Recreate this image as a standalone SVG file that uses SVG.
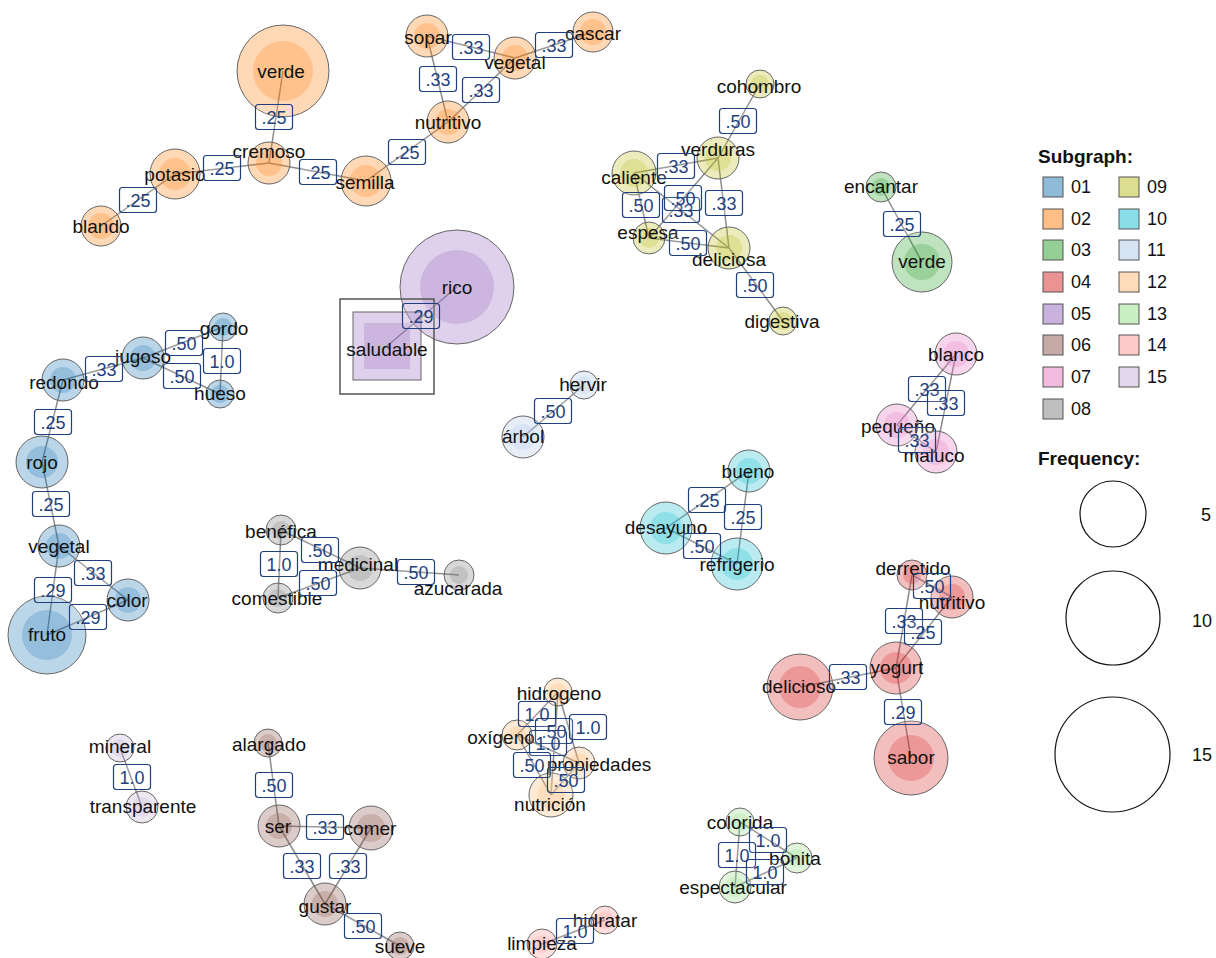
<svg xmlns="http://www.w3.org/2000/svg" width="1216" height="958" viewBox="0 0 1216 958">
<style>
text{font-family:"Liberation Sans",Arial,sans-serif}
.e{stroke:#8c8c8c;stroke-width:1.5;fill:none}
.lb{fill:#fff;fill-opacity:0.15;stroke:#1f3f7f;stroke-width:1.2}
.lt{font-size:18px;fill:#1f3f7f;text-anchor:middle}
.nt{font-size:19px;fill:#111;text-anchor:middle}
.o{fill-opacity:0.3;stroke:#666;stroke-width:1}
.i{fill-opacity:0.25}
.c01{fill:#1f77b4}.c02{fill:#ff7f0e}.c03{fill:#2ca02c}.c04{fill:#d62728}.c05{fill:#9467bd}
.c06{fill:#8c564b}.c07{fill:#e377c2}.c08{fill:#7f7f7f}.c09{fill:#bcbd22}.c10{fill:#17becf}
.c11{fill:#aec7e8}.c12{fill:#ffbb78}.c13{fill:#98df8a}.c14{fill:#ff9896}.c15{fill:#c5b0d5}
.sq{fill-opacity:0.5;stroke:#555;stroke-width:1}
.lg{font-size:18px;fill:#111}
.lh{font-size:19px;font-weight:bold;fill:#111}
.fc{fill:none;stroke:#111;stroke-width:1.2}
</style>
<rect width="1216" height="958" fill="#fff"/>
<g id="connectors">
<line class="e" x1="283" y1="71" x2="269" y2="163"/>
<line class="e" x1="269" y1="163" x2="175" y2="174"/>
<line class="e" x1="269" y1="163" x2="366" y2="181"/>
<line class="e" x1="175" y1="174" x2="101" y2="226"/>
<line class="e" x1="366" y1="181" x2="448" y2="122"/>
<line class="e" x1="448" y1="122" x2="427" y2="36"/>
<line class="e" x1="448" y1="122" x2="515" y2="58"/>
<line class="e" x1="427" y1="36" x2="515" y2="58"/>
<line class="e" x1="515" y1="58" x2="593" y2="32"/>
<line class="e" x1="760" y1="84" x2="718" y2="158"/>
<line class="e" x1="718" y1="158" x2="634" y2="173"/>
<line class="e" x1="718" y1="158" x2="649" y2="238"/>
<line class="e" x1="634" y1="173" x2="729" y2="248"/>
<line class="e" x1="718" y1="158" x2="729" y2="248"/>
<line class="e" x1="634" y1="173" x2="649" y2="238"/>
<line class="e" x1="649" y1="238" x2="729" y2="248"/>
<line class="e" x1="729" y1="248" x2="783" y2="321"/>
<line class="e" x1="881" y1="187" x2="922" y2="262"/>
<line class="e" x1="457" y1="287" x2="387" y2="346"/>
<line class="e" x1="143" y1="358" x2="223" y2="327"/>
<line class="e" x1="223" y1="327" x2="220" y2="394"/>
<line class="e" x1="143" y1="358" x2="220" y2="394"/>
<line class="e" x1="63" y1="380" x2="143" y2="358"/>
<line class="e" x1="63" y1="380" x2="42" y2="462"/>
<line class="e" x1="42" y1="462" x2="59" y2="546"/>
<line class="e" x1="59" y1="546" x2="47" y2="635"/>
<line class="e" x1="59" y1="546" x2="128" y2="600"/>
<line class="e" x1="128" y1="600" x2="47" y2="635"/>
<line class="e" x1="584" y1="385" x2="523" y2="437"/>
<line class="e" x1="956" y1="354" x2="897" y2="425"/>
<line class="e" x1="956" y1="354" x2="936" y2="452"/>
<line class="e" x1="897" y1="425" x2="936" y2="452"/>
<line class="e" x1="749" y1="471" x2="666" y2="528"/>
<line class="e" x1="749" y1="471" x2="737" y2="564"/>
<line class="e" x1="666" y1="528" x2="737" y2="564"/>
<line class="e" x1="281" y1="530" x2="360" y2="568"/>
<line class="e" x1="281" y1="530" x2="278" y2="598"/>
<line class="e" x1="278" y1="598" x2="360" y2="568"/>
<line class="e" x1="360" y1="568" x2="459" y2="575"/>
<line class="e" x1="912" y1="575" x2="952" y2="597"/>
<line class="e" x1="912" y1="575" x2="896" y2="668"/>
<line class="e" x1="952" y1="597" x2="896" y2="668"/>
<line class="e" x1="800" y1="687" x2="896" y2="668"/>
<line class="e" x1="896" y1="668" x2="911" y2="758"/>
<line class="e" x1="558" y1="692" x2="517" y2="735"/>
<line class="e" x1="558" y1="692" x2="551" y2="795"/>
<line class="e" x1="558" y1="692" x2="579" y2="763"/>
<line class="e" x1="517" y1="735" x2="579" y2="763"/>
<line class="e" x1="517" y1="735" x2="551" y2="795"/>
<line class="e" x1="579" y1="763" x2="551" y2="795"/>
<line class="e" x1="740" y1="822" x2="797" y2="858"/>
<line class="e" x1="740" y1="822" x2="735" y2="887"/>
<line class="e" x1="735" y1="887" x2="797" y2="858"/>
<line class="e" x1="605" y1="920" x2="542" y2="944"/>
<line class="e" x1="120" y1="748" x2="142" y2="807"/>
<line class="e" x1="268" y1="743" x2="279" y2="826"/>
<line class="e" x1="279" y1="826" x2="371" y2="828"/>
<line class="e" x1="279" y1="826" x2="325" y2="904"/>
<line class="e" x1="371" y1="828" x2="325" y2="904"/>
<line class="e" x1="325" y1="904" x2="400" y2="946"/>
</g>
<g id="nodes">
<g id="n-verde-02" class="c02"><circle class="o" cx="283" cy="71" r="46"/><circle class="i" cx="283" cy="71" r="30"/><text class="nt" x="281" y="78">verde</text></g>
<g id="n-cremoso" class="c02"><circle class="o" cx="269" cy="163" r="21"/><circle class="i" cx="269" cy="163" r="13"/><text class="nt" x="269" y="158">cremoso</text></g>
<g id="n-potasio" class="c02"><circle class="o" cx="175" cy="174" r="25"/><circle class="i" cx="175" cy="174" r="16"/><text class="nt" x="175" y="181">potasio</text></g>
<g id="n-blando" class="c02"><circle class="o" cx="101" cy="226" r="20"/><circle class="i" cx="101" cy="226" r="13"/><text class="nt" x="101" y="233">blando</text></g>
<g id="n-semilla" class="c02"><circle class="o" cx="366" cy="181" r="25"/><circle class="i" cx="366" cy="181" r="16"/><text class="nt" x="365" y="189">semilla</text></g>
<g id="n-nutritivo-02" class="c02"><circle class="o" cx="448" cy="122" r="21"/><circle class="i" cx="448" cy="122" r="13"/><text class="nt" x="448" y="129">nutritivo</text></g>
<g id="n-sopar" class="c02"><circle class="o" cx="427" cy="36" r="21"/><circle class="i" cx="427" cy="36" r="13"/><text class="nt" x="428" y="44">sopar</text></g>
<g id="n-vegetal-02" class="c02"><circle class="o" cx="515" cy="58" r="21"/><circle class="i" cx="515" cy="58" r="13"/><text class="nt" x="515" y="69">vegetal</text></g>
<g id="n-cascar" class="c02"><circle class="o" cx="593" cy="32" r="20"/><circle class="i" cx="593" cy="32" r="13"/><text class="nt" x="593" y="40">cascar</text></g>

<g id="n-cohombro" class="c09"><circle class="o" cx="760" cy="84" r="14"/><circle class="i" cx="760" cy="84" r="9"/><text class="nt" x="759" y="93">cohombro</text></g>
<g id="n-verduras" class="c09"><circle class="o" cx="718" cy="158" r="21"/><circle class="i" cx="718" cy="158" r="13"/><text class="nt" x="718" y="156">verduras</text></g>
<g id="n-caliente" class="c09"><circle class="o" cx="634" cy="173" r="22"/><circle class="i" cx="634" cy="173" r="14"/><text class="nt" x="634" y="184">caliente</text></g>
<g id="n-espesa" class="c09"><circle class="o" cx="649" cy="238" r="16"/><circle class="i" cx="649" cy="238" r="10"/><text class="nt" x="648" y="239">espesa</text></g>
<g id="n-deliciosa" class="c09"><circle class="o" cx="729" cy="248" r="21"/><circle class="i" cx="729" cy="248" r="13"/><text class="nt" x="729" y="266">deliciosa</text></g>
<g id="n-digestiva" class="c09"><circle class="o" cx="783" cy="321" r="14"/><circle class="i" cx="783" cy="321" r="9"/><text class="nt" x="782" y="328">digestiva</text></g>

<g id="n-encantar" class="c03"><circle class="o" cx="881" cy="187" r="15"/><circle class="i" cx="881" cy="187" r="9"/><text class="nt" x="881" y="193">encantar</text></g>
<g id="n-verde-03" class="c03"><circle class="o" cx="922" cy="262" r="30"/><circle class="i" cx="922" cy="262" r="18"/><text class="nt" x="922" y="268">verde</text></g>

<g id="n-rico" class="c05"><circle class="o" cx="457" cy="287" r="57"/><circle class="i" cx="457" cy="287" r="37"/><text class="nt" x="457" y="294">rico</text></g>
<g id="n-saludable" class="c05"><rect x="340" y="299" width="94" height="95" fill="none" stroke="#555" stroke-width="1.5"/><rect class="o" x="353" y="312" width="68" height="68"/><rect class="i" x="364" y="323" width="46" height="46"/><text class="nt" x="387" y="356">saludable</text></g>

<g id="n-gordo" class="c01"><circle class="o" cx="223" cy="327" r="14"/><circle class="i" cx="223" cy="327" r="9"/><text class="nt" x="224" y="335">gordo</text></g>
<g id="n-jugoso" class="c01"><circle class="o" cx="143" cy="358" r="21"/><circle class="i" cx="143" cy="358" r="13"/><text class="nt" x="143" y="363">jugoso</text></g>
<g id="n-hueso" class="c01"><circle class="o" cx="220" cy="394" r="14"/><circle class="i" cx="220" cy="394" r="9"/><text class="nt" x="220" y="400">hueso</text></g>
<g id="n-redondo" class="c01"><circle class="o" cx="63" cy="380" r="21"/><circle class="i" cx="63" cy="380" r="13"/><text class="nt" x="64" y="389">redondo</text></g>
<g id="n-rojo" class="c01"><circle class="o" cx="42" cy="462" r="26"/><circle class="i" cx="42" cy="462" r="16"/><text class="nt" x="42" y="469">rojo</text></g>
<g id="n-vegetal-01" class="c01"><circle class="o" cx="59" cy="546" r="21"/><circle class="i" cx="59" cy="546" r="13"/><text class="nt" x="59" y="553">vegetal</text></g>
<g id="n-color" class="c01"><circle class="o" cx="128" cy="600" r="21"/><circle class="i" cx="128" cy="600" r="13"/><text class="nt" x="127" y="607">color</text></g>
<g id="n-fruto" class="c01"><circle class="o" cx="47" cy="635" r="39"/><circle class="i" cx="47" cy="635" r="25"/><text class="nt" x="47" y="641">fruto</text></g>

<g id="n-hervir" class="c11"><circle class="o" cx="584" cy="385" r="14"/><circle class="i" cx="584" cy="385" r="9"/><text class="nt" x="583" y="391">hervir</text></g>
<g id="n-arbol" class="c11"><circle class="o" cx="523" cy="437" r="21"/><circle class="i" cx="523" cy="437" r="13"/><text class="nt" x="523" y="443">árbol</text></g>

<g id="n-blanco" class="c07"><circle class="o" cx="956" cy="354" r="21"/><circle class="i" cx="956" cy="354" r="13"/><text class="nt" x="956" y="361">blanco</text></g>
<g id="n-pequeno" class="c07"><circle class="o" cx="897" cy="425" r="21"/><circle class="i" cx="897" cy="425" r="13"/><text class="nt" x="898" y="433">pequeño</text></g>
<g id="n-maluco" class="c07"><circle class="o" cx="936" cy="452" r="21"/><circle class="i" cx="936" cy="452" r="13"/><text class="nt" x="934" y="462">maluco</text></g>

<g id="n-bueno" class="c10"><circle class="o" cx="749" cy="471" r="21"/><circle class="i" cx="749" cy="471" r="13"/><text class="nt" x="748" y="478">bueno</text></g>
<g id="n-desayuno" class="c10"><circle class="o" cx="666" cy="528" r="26"/><circle class="i" cx="666" cy="528" r="16"/><text class="nt" x="666" y="534">desayuno</text></g>
<g id="n-refrigerio" class="c10"><circle class="o" cx="737" cy="564" r="26"/><circle class="i" cx="737" cy="564" r="16"/><text class="nt" x="737" y="571">refrigerio</text></g>

<g id="n-benefica" class="c08"><circle class="o" cx="281" cy="530" r="15"/><circle class="i" cx="281" cy="530" r="9"/><text class="nt" x="281" y="538">benéfica</text></g>
<g id="n-comestible" class="c08"><circle class="o" cx="278" cy="598" r="15"/><circle class="i" cx="278" cy="598" r="9"/><text class="nt" x="277" y="605">comestible</text></g>
<g id="n-medicinal" class="c08"><circle class="o" cx="360" cy="568" r="21"/><circle class="i" cx="360" cy="568" r="13"/><text class="nt" x="358" y="571">medicinal</text></g>
<g id="n-azucarada" class="c08"><circle class="o" cx="459" cy="575" r="15"/><circle class="i" cx="459" cy="575" r="9"/><text class="nt" x="458" y="595">azucarada</text></g>

<g id="n-derretido" class="c04"><circle class="o" cx="912" cy="575" r="15"/><circle class="i" cx="912" cy="575" r="9"/><text class="nt" x="913" y="575">derretido</text></g>
<g id="n-nutritivo-04" class="c04"><circle class="o" cx="952" cy="597" r="21"/><circle class="i" cx="952" cy="597" r="13"/><text class="nt" x="952" y="609">nutritivo</text></g>
<g id="n-yogurt" class="c04"><circle class="o" cx="896" cy="668" r="26"/><circle class="i" cx="896" cy="668" r="16"/><text class="nt" x="897" y="674">yogurt</text></g>
<g id="n-delicioso" class="c04"><circle class="o" cx="800" cy="687" r="33"/><circle class="i" cx="800" cy="687" r="21"/><text class="nt" x="799" y="693">delicioso</text></g>
<g id="n-sabor" class="c04"><circle class="o" cx="911" cy="758" r="37"/><circle class="i" cx="911" cy="758" r="23"/><text class="nt" x="911" y="764">sabor</text></g>

<g id="n-hidrogeno" class="c12"><circle class="o" cx="558" cy="692" r="14"/><circle class="i" cx="558" cy="692" r="9"/><text class="nt" x="559" y="700">hidrogeno</text></g>
<g id="n-oxigeno" class="c12"><circle class="o" cx="517" cy="735" r="15"/><circle class="i" cx="517" cy="735" r="9"/><text class="nt" x="501" y="744">oxígeno</text></g>
<g id="n-propiedades" class="c12"><circle class="o" cx="579" cy="763" r="16"/><circle class="i" cx="579" cy="763" r="10"/><text class="nt" x="599" y="771">propiedades</text></g>
<g id="n-nutricion" class="c12"><circle class="o" cx="551" cy="795" r="22"/><circle class="i" cx="551" cy="795" r="14"/><text class="nt" x="550" y="811">nutrición</text></g>

<g id="n-colorida" class="c13"><circle class="o" cx="740" cy="822" r="14"/><circle class="i" cx="740" cy="822" r="9"/><text class="nt" x="740" y="829">colorida</text></g>
<g id="n-bonita" class="c13"><circle class="o" cx="797" cy="858" r="15"/><circle class="i" cx="797" cy="858" r="9"/><text class="nt" x="795" y="865">bonita</text></g>
<g id="n-espectacular" class="c13"><circle class="o" cx="735" cy="887" r="16"/><circle class="i" cx="735" cy="887" r="10"/><text class="nt" x="733" y="894">espectacular</text></g>

<g id="n-hidratar" class="c14"><circle class="o" cx="605" cy="920" r="14"/><circle class="i" cx="605" cy="920" r="9"/><text class="nt" x="605" y="927">hidratar</text></g>
<g id="n-limpieza" class="c14"><circle class="o" cx="542" cy="944" r="15"/><circle class="i" cx="542" cy="944" r="9"/><text class="nt" x="542" y="950">limpieza</text></g>

<g id="n-mineral" class="c15"><circle class="o" cx="120" cy="748" r="14"/><circle class="i" cx="120" cy="748" r="9"/><text class="nt" x="120" y="753">mineral</text></g>
<g id="n-transparente" class="c15"><circle class="o" cx="142" cy="807" r="16"/><circle class="i" cx="142" cy="807" r="10"/><text class="nt" x="143" y="813">transparente</text></g>

<g id="n-alargado" class="c06"><circle class="o" cx="268" cy="743" r="14"/><circle class="i" cx="268" cy="743" r="9"/><text class="nt" x="269" y="751">alargado</text></g>
<g id="n-ser" class="c06"><circle class="o" cx="279" cy="826" r="21"/><circle class="i" cx="279" cy="826" r="13"/><text class="nt" x="278" y="833">ser</text></g>
<g id="n-comer" class="c06"><circle class="o" cx="371" cy="828" r="22"/><circle class="i" cx="371" cy="828" r="14"/><text class="nt" x="370" y="835">comer</text></g>
<g id="n-gustar" class="c06"><circle class="o" cx="325" cy="904" r="21"/><circle class="i" cx="325" cy="904" r="13"/><text class="nt" x="325" y="913">gustar</text></g>
<g id="n-sueve" class="c06"><circle class="o" cx="400" cy="946" r="14"/><circle class="i" cx="400" cy="946" r="9"/><text class="nt" x="400" y="953">sueve</text></g>
</g>
<g id="edge-labels">
<g><rect class="lb" x="255.5" y="104.5" width="37" height="25" rx="3"/><text class="lt" x="274" y="123.5">.25</text></g>
<g><rect class="lb" x="203.5" y="155.5" width="37" height="25" rx="3"/><text class="lt" x="222" y="174.5">.25</text></g>
<g><rect class="lb" x="299.5" y="159.5" width="37" height="25" rx="3"/><text class="lt" x="318" y="178.5">.25</text></g>
<g><rect class="lb" x="119.5" y="187.5" width="37" height="25" rx="3"/><text class="lt" x="138" y="206.5">.25</text></g>
<g><rect class="lb" x="388.5" y="139.5" width="37" height="25" rx="3"/><text class="lt" x="407" y="158.5">.25</text></g>
<g><rect class="lb" x="419.5" y="66.5" width="37" height="25" rx="3"/><text class="lt" x="438" y="85.5">.33</text></g>
<g><rect class="lb" x="462.5" y="77.5" width="37" height="25" rx="3"/><text class="lt" x="481" y="96.5">.33</text></g>
<g><rect class="lb" x="452.5" y="34.5" width="37" height="25" rx="3"/><text class="lt" x="471" y="53.5">.33</text></g>
<g><rect class="lb" x="535.5" y="32.5" width="37" height="25" rx="3"/><text class="lt" x="554" y="51.5">.33</text></g>

<g><rect class="lb" x="719.5" y="108.5" width="37" height="25" rx="3"/><text class="lt" x="738" y="127.5">.50</text></g>
<g><rect class="lb" x="657.5" y="153.5" width="37" height="25" rx="3"/><text class="lt" x="676" y="172.5">.33</text></g>
<g><rect class="lb" x="662.5" y="197.5" width="37" height="25" rx="3"/><text class="lt" x="681" y="216.5">.33</text></g>
<g><rect class="lb" x="664.5" y="185.5" width="37" height="25" rx="3"/><text class="lt" x="683" y="204.5">.50</text></g>
<g><rect class="lb" x="705.5" y="190.5" width="37" height="25" rx="3"/><text class="lt" x="724" y="209.5">.33</text></g>
<g><rect class="lb" x="622.5" y="192.5" width="37" height="25" rx="3"/><text class="lt" x="641" y="211.5">.50</text></g>
<g><rect class="lb" x="669.5" y="230.5" width="37" height="25" rx="3"/><text class="lt" x="688" y="249.5">.50</text></g>
<g><rect class="lb" x="736.5" y="272.5" width="37" height="25" rx="3"/><text class="lt" x="755" y="291.5">.50</text></g>

<g><rect class="lb" x="883.5" y="211.5" width="37" height="25" rx="3"/><text class="lt" x="902" y="230.5">.25</text></g>
<g><rect class="lb" x="402.5" y="303.5" width="37" height="25" rx="3"/><text class="lt" x="421" y="322.5">.29</text></g>

<g><rect class="lb" x="165.5" y="330.5" width="37" height="25" rx="3"/><text class="lt" x="184" y="349.5">.50</text></g>
<g><rect class="lb" x="203.5" y="348.5" width="37" height="25" rx="3"/><text class="lt" x="222" y="367.5">1.0</text></g>
<g><rect class="lb" x="163.5" y="363.5" width="37" height="25" rx="3"/><text class="lt" x="182" y="382.5">.50</text></g>
<g><rect class="lb" x="85.5" y="356.5" width="37" height="25" rx="3"/><text class="lt" x="104" y="375.5">.33</text></g>
<g><rect class="lb" x="34.5" y="409.5" width="37" height="25" rx="3"/><text class="lt" x="53" y="428.5">.25</text></g>
<g><rect class="lb" x="32.5" y="491.5" width="37" height="25" rx="3"/><text class="lt" x="51" y="510.5">.25</text></g>
<g><rect class="lb" x="34.5" y="577.5" width="37" height="25" rx="3"/><text class="lt" x="53" y="596.5">.29</text></g>
<g><rect class="lb" x="74.5" y="560.5" width="37" height="25" rx="3"/><text class="lt" x="93" y="579.5">.33</text></g>
<g><rect class="lb" x="69.5" y="604.5" width="37" height="25" rx="3"/><text class="lt" x="88" y="623.5">.29</text></g>

<g><rect class="lb" x="534.5" y="398.5" width="37" height="25" rx="3"/><text class="lt" x="553" y="417.5">.50</text></g>

<g><rect class="lb" x="908.5" y="376.5" width="37" height="25" rx="3"/><text class="lt" x="927" y="395.5">.33</text></g>
<g><rect class="lb" x="927.5" y="390.5" width="37" height="25" rx="3"/><text class="lt" x="946" y="409.5">.33</text></g>
<g><rect class="lb" x="898.5" y="427.5" width="37" height="25" rx="3"/><text class="lt" x="917" y="446.5">.33</text></g>

<g><rect class="lb" x="688.5" y="487.5" width="37" height="25" rx="3"/><text class="lt" x="707" y="506.5">.25</text></g>
<g><rect class="lb" x="724.5" y="504.5" width="37" height="25" rx="3"/><text class="lt" x="743" y="523.5">.25</text></g>
<g><rect class="lb" x="683.5" y="533.5" width="37" height="25" rx="3"/><text class="lt" x="702" y="552.5">.50</text></g>

<g><rect class="lb" x="301.5" y="537.5" width="37" height="25" rx="3"/><text class="lt" x="320" y="556.5">.50</text></g>
<g><rect class="lb" x="260.5" y="551.5" width="37" height="25" rx="3"/><text class="lt" x="279" y="570.5">1.0</text></g>
<g><rect class="lb" x="299.5" y="570.5" width="37" height="25" rx="3"/><text class="lt" x="318" y="589.5">.50</text></g>
<g><rect class="lb" x="397.5" y="559.5" width="37" height="25" rx="3"/><text class="lt" x="416" y="578.5">.50</text></g>

<g><rect class="lb" x="913.5" y="573.5" width="37" height="25" rx="3"/><text class="lt" x="932" y="592.5">.50</text></g>
<g><rect class="lb" x="885.5" y="608.5" width="37" height="25" rx="3"/><text class="lt" x="904" y="627.5">.33</text></g>
<g><rect class="lb" x="904.5" y="619.5" width="37" height="25" rx="3"/><text class="lt" x="923" y="638.5">.25</text></g>
<g><rect class="lb" x="829.5" y="664.5" width="37" height="25" rx="3"/><text class="lt" x="848" y="683.5">.33</text></g>
<g><rect class="lb" x="884.5" y="699.5" width="37" height="25" rx="3"/><text class="lt" x="903" y="718.5">.29</text></g>

<g><rect class="lb" x="518.5" y="701.5" width="37" height="25" rx="3"/><text class="lt" x="537" y="720.5">1.0</text></g>
<g><rect class="lb" x="535.5" y="718.5" width="37" height="25" rx="3"/><text class="lt" x="554" y="737.5">.50</text></g>
<g><rect class="lb" x="569.5" y="714.5" width="37" height="25" rx="3"/><text class="lt" x="588" y="733.5">1.0</text></g>
<g><rect class="lb" x="529.5" y="730.5" width="37" height="25" rx="3"/><text class="lt" x="548" y="749.5">1.0</text></g>
<g><rect class="lb" x="513.5" y="752.5" width="37" height="25" rx="3"/><text class="lt" x="532" y="771.5">.50</text></g>
<g><rect class="lb" x="547.5" y="767.5" width="37" height="25" rx="3"/><text class="lt" x="566" y="786.5">.50</text></g>

<g><rect class="lb" x="749.5" y="827.5" width="37" height="25" rx="3"/><text class="lt" x="768" y="846.5">1.0</text></g>
<g><rect class="lb" x="718.5" y="842.5" width="37" height="25" rx="3"/><text class="lt" x="737" y="861.5">1.0</text></g>
<g><rect class="lb" x="746.5" y="859.5" width="37" height="25" rx="3"/><text class="lt" x="765" y="878.5">1.0</text></g>

<g><rect class="lb" x="556.5" y="918.5" width="37" height="25" rx="3"/><text class="lt" x="575" y="937.5">1.0</text></g>
<g><rect class="lb" x="113.5" y="764.5" width="37" height="25" rx="3"/><text class="lt" x="132" y="783.5">1.0</text></g>

<g><rect class="lb" x="255.5" y="772.5" width="37" height="25" rx="3"/><text class="lt" x="274" y="791.5">.50</text></g>
<g><rect class="lb" x="306.5" y="814.5" width="37" height="25" rx="3"/><text class="lt" x="325" y="833.5">.33</text></g>
<g><rect class="lb" x="283.5" y="853.5" width="37" height="25" rx="3"/><text class="lt" x="302" y="872.5">.33</text></g>
<g><rect class="lb" x="329.5" y="853.5" width="37" height="25" rx="3"/><text class="lt" x="348" y="872.5">.33</text></g>
<g><rect class="lb" x="344.5" y="913.5" width="37" height="25" rx="3"/><text class="lt" x="363" y="932.5">.50</text></g>
</g>
<g id="legend">
<text class="lh" x="1038" y="163">Subgraph:</text>
<rect class="sq c01" x="1043" y="177" width="20" height="20"/><text class="lg" x="1071" y="193">01</text>
<rect class="sq c02" x="1043" y="209" width="20" height="20"/><text class="lg" x="1071" y="225">02</text>
<rect class="sq c03" x="1043" y="240" width="20" height="20"/><text class="lg" x="1071" y="256">03</text>
<rect class="sq c04" x="1043" y="272" width="20" height="20"/><text class="lg" x="1071" y="288">04</text>
<rect class="sq c05" x="1043" y="304" width="20" height="20"/><text class="lg" x="1071" y="320">05</text>
<rect class="sq c06" x="1043" y="335" width="20" height="20"/><text class="lg" x="1071" y="351">06</text>
<rect class="sq c07" x="1043" y="367" width="20" height="20"/><text class="lg" x="1071" y="383">07</text>
<rect class="sq c08" x="1043" y="399" width="20" height="20"/><text class="lg" x="1071" y="415">08</text>
<rect class="sq c09" x="1119" y="177" width="20" height="20"/><text class="lg" x="1147" y="193">09</text>
<rect class="sq c10" x="1119" y="209" width="20" height="20"/><text class="lg" x="1147" y="225">10</text>
<rect class="sq c11" x="1119" y="240" width="20" height="20"/><text class="lg" x="1147" y="256">11</text>
<rect class="sq c12" x="1119" y="272" width="20" height="20"/><text class="lg" x="1147" y="288">12</text>
<rect class="sq c13" x="1119" y="304" width="20" height="20"/><text class="lg" x="1147" y="320">13</text>
<rect class="sq c14" x="1119" y="335" width="20" height="20"/><text class="lg" x="1147" y="351">14</text>
<rect class="sq c15" x="1119" y="367" width="20" height="20"/><text class="lg" x="1147" y="383">15</text>
<text class="lh" x="1038" y="465">Frequency:</text>
<circle class="fc" cx="1113" cy="514" r="33"/>
<text class="lg" x="1206" y="521" text-anchor="middle">5</text>
<circle class="fc" cx="1113" cy="618" r="47"/>
<text class="lg" x="1202" y="627" text-anchor="middle">10</text>
<circle class="fc" cx="1112.5" cy="754.5" r="57.5"/>
<text class="lg" x="1202" y="761" text-anchor="middle">15</text>
</g>
</svg>
